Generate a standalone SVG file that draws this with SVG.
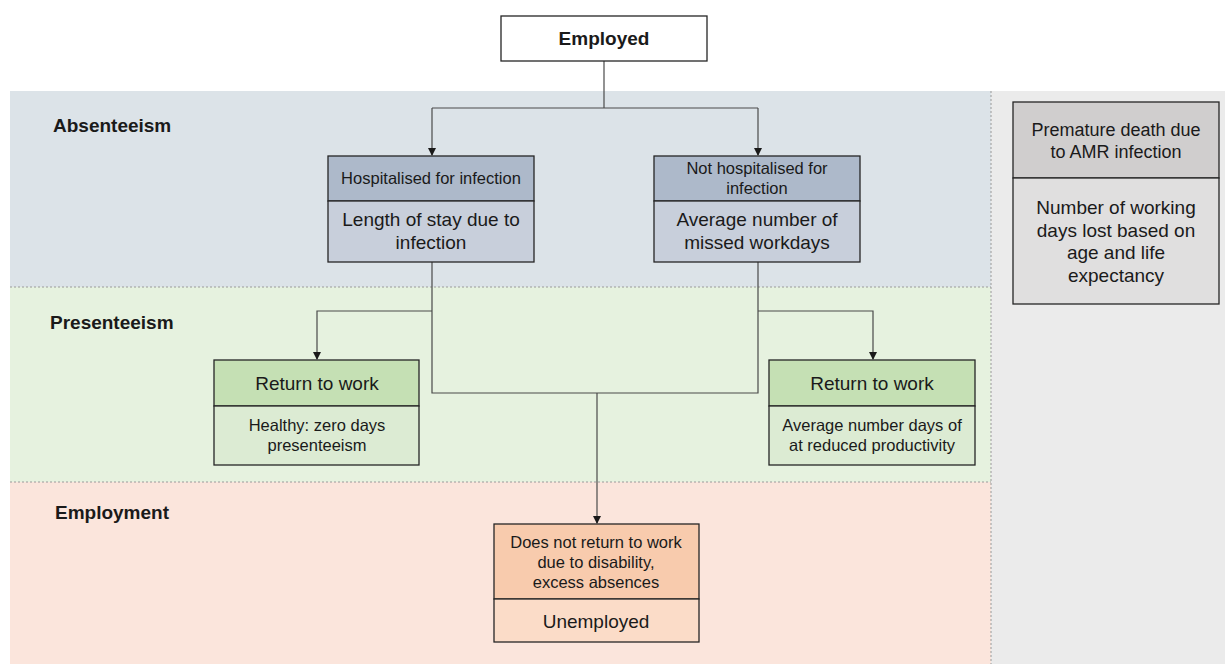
<svg xmlns="http://www.w3.org/2000/svg" width="1225" height="664" viewBox="0 0 1225 664">
<defs>
<marker id="arr" markerWidth="8" markerHeight="8" refX="7" refY="4" orient="auto" markerUnits="userSpaceOnUse">
<path d="M0,0 L8,4 L0,8 Z" fill="#1a1a1a"/>
</marker>
<style>
text{font-family:"Liberation Sans",Arial,sans-serif;fill:#1a1a1a;text-anchor:middle}
.lbl{font-weight:bold;font-size:19px;text-anchor:start}
.box{stroke:#262626;stroke-width:1.3}
.con{fill:none;stroke:#4a4a4a;stroke-width:1.2}
.sep{stroke:#9a9a9a;stroke-width:1;stroke-dasharray:2,2}
.s19{font-size:19px}
.s18{font-size:18px}
.s16{font-size:16.5px}
</style>
</defs>
<rect width="1225" height="664" fill="#ffffff"/>
<g id="bands">
<rect x="10" y="91" width="981" height="196" fill="#dce3e8"/>
<rect x="10" y="287" width="981" height="195" fill="#e6f2df"/>
<rect x="10" y="482" width="981" height="182" fill="#fbe5dc"/>
<rect x="991" y="91" width="234" height="573" fill="#ebebeb"/>
<line class="sep" x1="10" y1="287" x2="991" y2="287"/>
<line class="sep" x1="10" y1="482" x2="991" y2="482"/>
<line class="sep" x1="991" y1="91" x2="991" y2="664"/>
<text class="lbl" x="53" y="132">Absenteeism</text>
<text class="lbl" x="50" y="329">Presenteeism</text>
<text class="lbl" x="55" y="519">Employment</text>
</g>
<g id="connectors">
<path class="con" d="M604,61 V108"/>
<path class="con" d="M432,108 H758"/>
<path class="con" d="M432,108 V155" marker-end="url(#arr)"/>
<path class="con" d="M758,108 V155" marker-end="url(#arr)"/>
<path class="con" d="M432,262 V393 H758 V262"/>
<path class="con" d="M432,311 H317 V359" marker-end="url(#arr)"/>
<path class="con" d="M758,311 H873 V359" marker-end="url(#arr)"/>
<path class="con" d="M597,393 V523" stroke-width="1.6" marker-end="url(#arr)"/>
</g>
<g id="employed">
<rect class="box" x="501" y="16" width="206" height="45" fill="#ffffff"/>
<text x="604" y="45" font-weight="bold" font-size="19">Employed</text>
</g>
<g id="hospitalised">
<rect class="box" x="328" y="156" width="206" height="45" fill="#adb9ca"/>
<rect class="box" x="328" y="201" width="206" height="61" fill="#c8cfdb"/>
<text class="s16" x="431" y="184">Hospitalised for infection</text>
<text class="s19" x="431" y="226">Length of stay due to</text>
<text class="s19" x="431" y="249">infection</text>
</g>
<g id="not-hospitalised">
<rect class="box" x="654" y="156" width="206" height="45" fill="#adb9ca"/>
<rect class="box" x="654" y="201" width="206" height="61" fill="#c8cfdb"/>
<text class="s16" x="757" y="174">Not hospitalised for</text>
<text class="s16" x="757" y="194">infection</text>
<text class="s19" x="757" y="226">Average number of</text>
<text class="s19" x="757" y="249">missed workdays</text>
</g>
<g id="premature-death">
<rect class="box" x="1013" y="102" width="206" height="76" fill="#d0cece"/>
<rect class="box" x="1013" y="178" width="206" height="126" fill="#e0dfdf"/>
<text class="s18" x="1116" y="136">Premature death due</text>
<text class="s18" x="1116" y="158">to AMR infection</text>
<text class="s19" x="1116" y="214">Number of working</text>
<text class="s19" x="1116" y="237">days lost based on</text>
<text class="s19" x="1116" y="259">age and life</text>
<text class="s19" x="1116" y="282">expectancy</text>
</g>
<g id="return-left">
<rect class="box" x="214" y="360" width="205" height="46" fill="#c5e0b4"/>
<rect class="box" x="214" y="406" width="205" height="59" fill="#dcebd3"/>
<text class="s19" x="317" y="390">Return to work</text>
<text class="s16" x="317" y="431">Healthy: zero days</text>
<text class="s16" x="317" y="451">presenteeism</text>
</g>
<g id="return-right">
<rect class="box" x="769" y="360" width="206" height="46" fill="#c5e0b4"/>
<rect class="box" x="769" y="406" width="206" height="59" fill="#dcebd3"/>
<text class="s19" x="872" y="390">Return to work</text>
<text class="s16" x="872" y="431">Average number days of</text>
<text class="s16" x="872" y="451">at reduced productivity</text>
</g>
<g id="unemployed">
<rect class="box" x="494" y="524" width="205" height="75" fill="#f8cbad"/>
<rect class="box" x="494" y="599" width="205" height="43" fill="#fbdcc8"/>
<text class="s16" x="596" y="548">Does not return to work</text>
<text class="s16" x="596" y="568">due to disability,</text>
<text class="s16" x="596" y="588">excess absences</text>
<text class="s19" x="596" y="628">Unemployed</text>
</g>
</svg>
